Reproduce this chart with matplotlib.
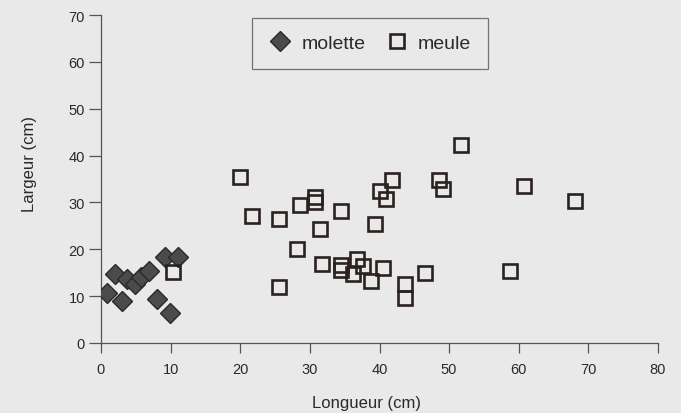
import matplotlib
matplotlib.use("Agg")
import matplotlib.pyplot as plt

# molette (diamonds)
molette_x = [0.8, 2.0, 3.0, 3.7, 4.9, 5.8, 6.9, 8.1, 9.2, 9.9, 11.1]
molette_y = [10.6, 14.7, 8.9, 13.6, 12.6, 14.0, 15.4, 9.4, 18.3, 6.5, 18.3]

# meule (open squares)
meule_x = [10.4, 19.9, 21.7, 25.5, 25.5, 28.6, 30.7, 30.7, 28.1, 31.5, 34.5,
           31.8, 34.4, 34.4, 36.7, 36.2, 37.7, 38.8, 40.5, 39.3, 40.0, 41.0,
           41.8, 43.6, 43.6, 46.6, 48.6, 49.1, 51.7, 60.8, 68.1, 58.7]
meule_y = [15.1, 35.4, 27.2, 26.5, 11.9, 29.4, 31.2, 30.0, 20.1, 24.3, 28.2,
           16.8, 16.6, 15.5, 17.9, 14.8, 16.5, 13.2, 16.1, 25.4, 32.4, 30.7,
           34.7, 12.6, 9.6, 14.9, 34.7, 32.9, 42.2, 33.6, 30.2, 15.4]

x_ticks = [0, 10, 20, 30, 40, 50, 60, 70, 80]
y_ticks = [0, 10, 20, 30, 40, 50, 60, 70]

plt.rcParams['font.family'] = ['Liberation Sans', 'DejaVu Sans']
bg = '#e8e9e8'
fig = plt.figure(figsize=(6.81, 4.14), dpi=100, facecolor=bg)
ax = fig.add_axes([101/681, 1 - 344/414, 557/681, 328/414], facecolor=bg)

ax.plot(molette_x, molette_y, linestyle='none', marker='D', markersize=10,
        markerfacecolor='#4b4b4b', markeredgecolor='#2a2a2a', markeredgewidth=1.0,
        label='molette', zorder=3)
ax.plot(meule_x, meule_y, linestyle='none', marker='s', markersize=10.5,
        markerfacecolor='none', markeredgecolor='#2b2220', markeredgewidth=1.9,
        label='meule', zorder=4)

ax.set_xlim(0, 80)
ax.set_ylim(0, 70)
ax.set_xticks(x_ticks)
ax.set_yticks(y_ticks)
for s in ['top', 'right']:
    ax.spines[s].set_visible(False)
for s in ['left', 'bottom']:
    ax.spines[s].set_color('#555555')
    ax.spines[s].set_linewidth(0.9)
ax.tick_params(axis='y', direction='out', length=8.5, width=0.9, color='#555555',
               labelsize=10.5, labelcolor='#2a2a2a', pad=3)
ax.tick_params(axis='x', direction='out', length=7, width=0.9, color='#555555',
               labelsize=10.5, labelcolor='#2a2a2a', pad=7)

ax.set_xlabel('Longueur (cm)', fontsize=12, color='#2a2a2a')
ax.set_ylabel('Largeur (cm)', fontsize=12, color='#2a2a2a')
ax.xaxis.set_label_coords((366 - 101) / 557, (344 - 396) / 328)
ax.yaxis.set_label_coords((37 - 101) / 557, (344 - 164) / 328)

leg = ax.legend(loc='upper left', bbox_to_anchor=(0.271, 0.991), ncol=2,
                borderaxespad=0, fancybox=False, frameon=True, fontsize=14,
                handletextpad=0.5, columnspacing=1.0, handlelength=1.2,
                borderpad=0.85)
leg.get_frame().set_edgecolor('#555555')
leg.get_frame().set_linewidth(0.9)
leg.get_frame().set_facecolor(bg)
for t in leg.get_texts():
    t.set_color('#2a2a2a')

fig.savefig('out.png', dpi=100, facecolor=bg)
